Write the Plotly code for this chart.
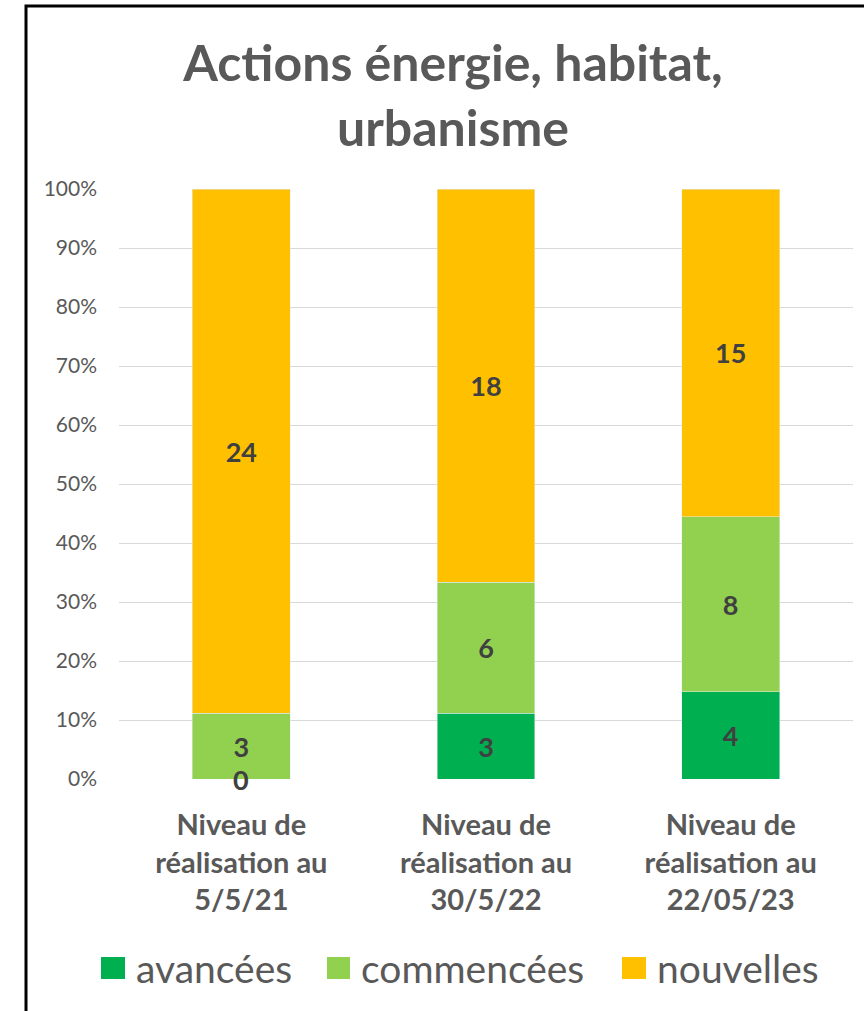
import plotly.graph_objects as go

categories = ["Niveau de<br>réalisation au<br>5/5/21",
              "Niveau de<br>réalisation au<br>30/5/22",
              "Niveau de<br>réalisation au<br>22/05/23"]
series_names = ["avancées", "commencées", "nouvelles"]
avancees = [0, 3, 4]
commencees = [3, 6, 8]
nouvelles = [24, 18, 15]
colors = ["#00B050", "#92D050", "#FFC000"]
y_ticks = list(range(0, 101, 10))
y_ticklabels = [f"{v}%" for v in y_ticks]

W, H = 864, 1011
L, R, T, B = 119, 11, 189, 232
PW, PH = W - L - R, H - T - B


def px(x):
    return (x - L) / PW


def py(y):
    return (H - B - y) / PH


FONT = "Lato"
series = [avancees, commencees, nouvelles]
fig = go.Figure()
for name, vals, col in zip(series_names, series, colors):
    fig.add_trace(go.Bar(
        x=categories, y=vals, name=name, marker_color=col,
        text=[str(v) if v != 0 else "" for v in vals],
        textposition="inside", insidetextanchor="middle", textangle=0,
        textfont=dict(family=FONT, size=27, color="#404040", weight="bold"),
        constraintext="none", showlegend=False,
    ))

# labels of zero-height segments, placed at their stacked position
annotations = []
totals = [sum(s[i] for s in series) for i in range(len(categories))]
for si, vals in enumerate(series):
    for ci, v in enumerate(vals):
        if v == 0:
            cum = sum(series[k][ci] for k in range(si)) / totals[ci] * 100
            annotations.append(dict(x=categories[ci], y=cum, xref="x", yref="y",
                                    text=str(v), showarrow=False, yanchor="middle",
                                    font=dict(family=FONT, size=27, color="#404040", weight="bold")))

# manual legend
leg_sq = [(101, 125), (327, 350), (622, 646)]
shapes = []
for (x0, x1), name, col in zip(leg_sq, series_names, colors):
    shapes.append(dict(type="rect", xref="paper", yref="paper",
                       x0=px(x0), x1=px(x1), y0=py(979), y1=py(957),
                       fillcolor=col, line=dict(width=0)))
    annotations.append(dict(xref="paper", yref="paper", x=px(x1 + 9), y=py(968),
                            xanchor="left", yanchor="middle", text=name, showarrow=False,
                            font=dict(family=FONT, size=39, color="#595959")))

# chart frame
shapes.append(dict(type="rect", xref="paper", yref="paper",
                   x0=px(26), x1=px(880), y0=py(1030), y1=py(6),
                   line=dict(color="black", width=3), fillcolor="rgba(0,0,0,0)", layer="above"))

fig.update_layout(
    barmode="stack", barnorm="percent", bargap=0.6,
    width=W, height=H,
    margin=dict(l=L, r=R, t=T, b=B),
    paper_bgcolor="white", plot_bgcolor="white",
    title=dict(text="Actions énergie, habitat,<br>urbanisme", x=453 / W, xanchor="center",
               xref="container", yref="container", y=1 - 81 / H, yanchor="top",
               font=dict(family=FONT, size=50, color="#595959", weight="bold")),
    xaxis=dict(tickfont=dict(family=FONT, size=29, color="#595959", weight="bold"),
               showline=False, ticks="", ticklabelstandoff=26),
    yaxis=dict(range=[0, 100], tickvals=y_ticks, ticktext=y_ticklabels,
               tickfont=dict(family=FONT, size=21, color="#595959"),
               gridcolor="#d9d9d9", gridwidth=1.3, zeroline=False, showline=False,
               ticks="", ticklabelstandoff=21),
    shapes=shapes, annotations=annotations, showlegend=False,
)
fig.write_html("out.html", config={"displayModeBar": False},
               post_script="document.body.style.margin='0';")
